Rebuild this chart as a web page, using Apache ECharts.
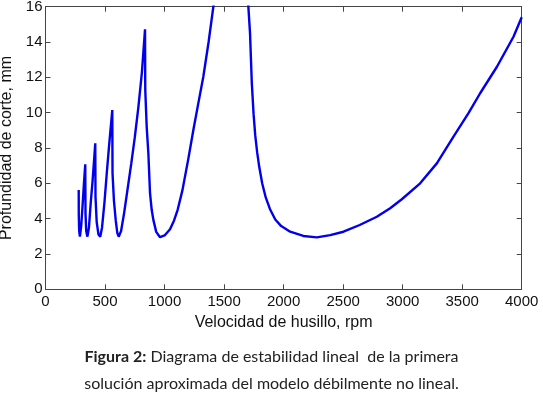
<!DOCTYPE html>
<html>
<head>
<meta charset="utf-8">
<script src="https://cdn.jsdelivr.net/npm/echarts@6/dist/echarts.min.js"></script>
<style>
  html, body { margin: 0; padding: 0; background: #fff; }
  #chart { width: 543px; height: 393px; }
</style>
</head>
<body>
<div id="chart"></div>
<script>
const rpm = [
  279, 279.5, 283, 289, 300, 312, 323, 334,
  336, 342, 352, 365, 380, 395, 408, 418,
  420, 430, 445, 460, 475, 495, 515, 535, 561,
  563, 575, 590, 603, 615, 635, 660, 690, 720, 750, 780, 810, 836,
  838, 850, 864, 878, 892, 906, 930, 962, 1000, 1046, 1080, 1110, 1150, 1200, 1242, 1280, 1326, 1370, 1410, 1452,
  1685, 1704, 1718, 1733, 1748, 1762, 1778, 1795, 1820, 1850, 1885, 1930, 1980, 2055, 2166, 2279, 2391, 2503, 2639, 2783,
  2895, 2993, 3147, 3287, 3427, 3553, 3651, 3792, 3931, 4000
];
const depth = [
  5.62, 4.21, 3.3, 2.98, 3.6, 4.8, 6.0, 7.08,
  4.3, 3.3, 2.98, 3.5, 4.9, 6.1, 7.3, 8.27,
  5.24, 3.8, 3.1, 2.98, 3.5, 4.9, 6.6, 8.2, 10.15,
  6.57, 5.0, 3.9, 3.2, 2.98, 3.3, 4.3, 5.7, 7.1, 8.6, 10.3, 12.3, 14.72,
  11.29, 9.2, 7.7, 5.44, 4.5, 3.93, 3.25, 2.95, 3.05, 3.4, 3.9, 4.5, 5.6, 7.4, 9.02, 10.4, 12.05, 14.0, 16.0, 18,
  18, 16.0, 14.5, 11.67, 9.9, 8.7, 7.75, 6.95, 6.0, 5.2, 4.55, 3.95, 3.58, 3.26, 3.02, 2.94, 3.07, 3.26, 3.64, 4.11,
  4.59, 5.10, 6.0, 7.13, 8.64, 9.97, 11.1, 12.6, 14.3, 15.4
];

const xTicks = [0, 500, 1000, 1500, 2000, 2500, 3000, 3500, 4000];
const yTicks = [0, 2, 4, 6, 8, 10, 12, 14, 16];

const font = '"Liberation Sans", Arial, sans-serif';
const axisColor = '#444';

const chart = echarts.init(document.getElementById('chart'), null, { renderer: 'canvas' });

const boxAxis = {
  axisLine: { show: true, onZero: false, lineStyle: { color: axisColor, width: 1 } },
  axisTick: { show: true, inside: true, length: 5, lineStyle: { color: axisColor } },
  splitLine: { show: false }
};

chart.setOption({
  animation: false,
  backgroundColor: '#fff',
  grid: { left: 45.5, right: 21.3, top: 6.7, bottom: 103.7, containLabel: false, outerBoundsMode: 'none' },
  title: {
    text: '{b|Figura 2:} Diagrama de estabilidad lineal  de la primera\nsolución aproximada del modelo débilmente no lineal.',
    left: 'center',
    top: 338,
    textStyle: {
      fontFamily: 'Lato, sans-serif',
      fontSize: 16,
      fontWeight: 'normal',
      color: '#222',
      lineHeight: 27,
      rich: {
        b: { fontFamily: 'Lato, sans-serif', fontSize: 16, fontWeight: 'bold', color: '#222', lineHeight: 27 }
      }
    }
  },
  xAxis: [
    Object.assign({}, boxAxis, {
      type: 'value', min: 0, max: 4000, interval: 500, position: 'bottom',
      name: 'Velocidad de husillo, rpm', nameLocation: 'middle', nameGap: 21,
      nameTextStyle: { fontFamily: font, fontSize: 16, color: '#111' },
      axisLabel: {
        margin: 5, color: '#111', fontFamily: font, fontSize: 15,
        formatter: v => xTicks.includes(v) ? String(v) : ''
      }
    }),
    Object.assign({}, boxAxis, {
      type: 'value', min: 0, max: 4000, interval: 500, position: 'top',
      axisLabel: { show: false }
    })
  ],
  yAxis: [
    Object.assign({}, boxAxis, {
      type: 'value', min: 0, max: 16, interval: 2, position: 'left',
      name: 'Profundidad de corte, mm', nameLocation: 'middle', nameGap: 25,
      nameTextStyle: { fontFamily: font, fontSize: 16, color: '#111' },
      axisLabel: {
        margin: 3, color: '#111', fontFamily: font, fontSize: 15,
        formatter: v => yTicks.includes(v) ? String(v) : ''
      }
    }),
    Object.assign({}, boxAxis, {
      type: 'value', min: 0, max: 16, interval: 2, position: 'right',
      axisLabel: { show: false }
    })
  ],
  series: [{
    type: 'line',
    data: rpm.map((x, i) => [x, depth[i]]),
    showSymbol: false,
    clip: true,
    lineStyle: { color: '#0000ee', width: 2.4 },
    z: 3
  }]
});
</script>
</body>
</html>
